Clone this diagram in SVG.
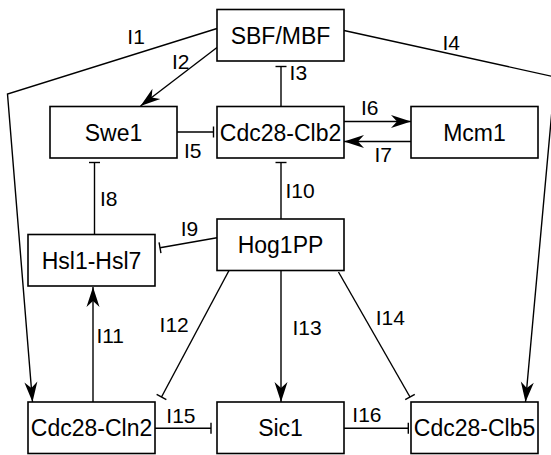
<svg xmlns="http://www.w3.org/2000/svg" width="551" height="455" viewBox="0 0 551 455">
  <style>
    .box { fill: #fff; stroke: #000; stroke-width: 1.6; }
    .name { font-family: "Liberation Sans", Arial, Helvetica, sans-serif; font-size: 23px; text-anchor: middle; fill: #000; }
    .edge { fill: none; stroke: #000; stroke-width: 1.4; }
    .act { marker-end: url(#arrow); }
    .inh { marker-end: url(#tee); }
    .lbl { font-family: "Liberation Sans", Arial, Helvetica, sans-serif; font-size: 21px; fill: #000; }
  </style>
  <defs>
    <!-- barbed arrowhead for activation -->
    <marker id="arrow" markerUnits="userSpaceOnUse" viewBox="-21 -8 22 16" refX="0" refY="0" markerWidth="22" markerHeight="16" orient="auto">
      <path d="M0,0 L-20,-6.5 L-14,0 L-20,6.5 Z" fill="#000"/>
    </marker>
    <!-- flat bar for inhibition -->
    <marker id="tee" markerUnits="userSpaceOnUse" viewBox="-2 -7 4 14" refX="0" refY="0" markerWidth="4" markerHeight="14" orient="auto">
      <path d="M0,-5.5 V5.5" stroke="#000" stroke-width="1.4"/>
    </marker>
  </defs>

  <!-- connectors -->
  <g id="connectors">
    <polyline class="edge act" points="217,28.5 7.5,94 32.5,402"/>
    <polyline class="edge act" points="344,30.5 555,77 525.5,402"/>
    <line class="edge act" x1="217" y1="47.5" x2="140.5" y2="106"/>
    <line class="edge inh" x1="281" y1="106.5" x2="281" y2="66.5"/>
    <line class="edge inh" x1="177" y1="132" x2="213.5" y2="132"/>
    <line class="edge act" x1="344" y1="121.5" x2="411" y2="121.5"/>
    <line class="edge act" x1="411" y1="141.5" x2="344" y2="141.5"/>
    <line class="edge inh" x1="94.5" y1="234.5" x2="94.5" y2="162.5"/>
    <line class="edge inh" x1="281" y1="219" x2="281" y2="162.5"/>
    <line class="edge inh" x1="217" y1="237.7" x2="160" y2="247.7"/>
    <line class="edge act" x1="93" y1="402" x2="93" y2="287"/>
    <line class="edge inh" x1="229" y1="270.5" x2="161.5" y2="397"/>
    <line class="edge act" x1="281" y1="270.5" x2="281" y2="402"/>
    <line class="edge inh" x1="338.5" y1="272" x2="410" y2="397"/>
    <line class="edge inh" x1="154.5" y1="428.3" x2="211" y2="428.3"/>
    <line class="edge inh" x1="343.5" y1="428.3" x2="408.3" y2="428.3"/>

    <text class="lbl" x="127.3" y="44">I1</text>
    <text class="lbl" x="172" y="68.5">I2</text>
    <text class="lbl" x="289.6" y="80">I3</text>
    <text class="lbl" x="442.5" y="50">I4</text>
    <text class="lbl" x="184" y="158">I5</text>
    <text class="lbl" x="361" y="115">I6</text>
    <text class="lbl" x="374.5" y="162">I7</text>
    <text class="lbl" x="100" y="206">I8</text>
    <text class="lbl" x="180.7" y="236">I9</text>
    <text class="lbl" x="285.4" y="197.5">I10</text>
    <text class="lbl" x="96.4" y="343">I11</text>
    <text class="lbl" x="159.6" y="332">I12</text>
    <text class="lbl" x="292.4" y="335">I13</text>
    <text class="lbl" x="375.7" y="325">I14</text>
    <text class="lbl" x="166.3" y="423">I15</text>
    <text class="lbl" x="352.3" y="421.5">I16</text>
  </g>

  <!-- nodes -->
  <g id="sbf-mbf"><rect class="box" x="217" y="9.5" width="127" height="51.5"/><text class="name" x="280.5" y="43.5">SBF/MBF</text></g>
  <g id="swe1"><rect class="box" x="50" y="106.5" width="127" height="51.5"/><text class="name" x="113.5" y="140.5">Swe1</text></g>
  <g id="cdc28-clb2"><rect class="box" x="217" y="106.5" width="127" height="51.5"/><text class="name" x="280.5" y="140.5">Cdc28-Clb2</text></g>
  <g id="mcm1"><rect class="box" x="411" y="106.5" width="127" height="51.5"/><text class="name" x="474.5" y="140.5">Mcm1</text></g>
  <g id="hsl1-hsl7"><rect class="box" x="28" y="234.5" width="127" height="51.5"/><text class="name" x="91.5" y="268.5">Hsl1-Hsl7</text></g>
  <g id="hog1pp"><rect class="box" x="217" y="219" width="127" height="51.5"/><text class="name" x="280.5" y="253">Hog1PP</text></g>
  <g id="cdc28-cln2"><rect class="box" x="28" y="402" width="127" height="51.5"/><text class="name" x="91.5" y="436">Cdc28-Cln2</text></g>
  <g id="sic1"><rect class="box" x="217" y="402" width="127" height="51.5"/><text class="name" x="280.5" y="436">Sic1</text></g>
  <g id="cdc28-clb5"><rect class="box" x="411" y="402" width="127" height="51.5"/><text class="name" x="474.5" y="436">Cdc28-Clb5</text></g>
</svg>
